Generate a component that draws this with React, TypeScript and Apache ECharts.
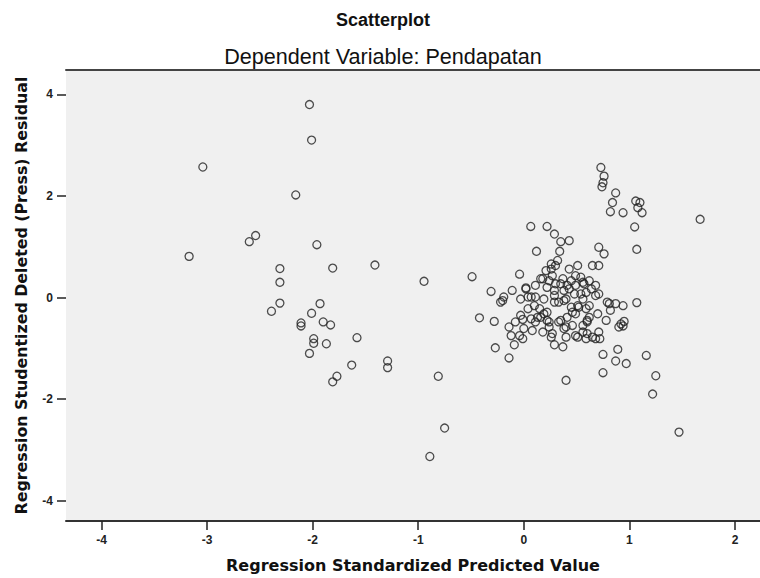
import React, { useEffect, useRef } from "react";
import * as echarts from "echarts";

const titleText = "Scatterplot";
const subtitleText = "Dependent Variable: Pendapatan";
const xAxisName = "Regression Standardized Predicted Value";
const yAxisName = "Regression Studentized Deleted (Press) Residual";

const xTicks = [-4, -3, -2, -1, 0, 1, 2];
const yTicks = [-4, -2, 0, 2, 4];

// Regression Standardized Predicted Value
const predicted = [
  -2.03, -2.01, -3.04, -2.16, -2.54, -2.6, -1.96, -3.17, -2.31, -1.81, -1.41, -2.31,
  -0.945, -0.49, -2.31, -2.39, -1.93, -2.01, -2.11, -2.11, -1.9, -1.83, -1.99, -1.99,
  -1.87, -2.03, -1.58, -1.63, -1.77, -1.81, -1.29, -1.29, -0.81, -0.42, -0.75, -0.89,
  -0.31, -0.11, 0.02, -0.04, -0.19, -0.2, -0.28, -0.14, -0.12, -0.09, -0.01, -0.01,
  -0.08, -0.27, -0.14, 0.4, -0.22, -0.03, -0.04, -0.03,
  0.066, 0.22, 0.29, 0.35, 0.43, 0.12, 0.34, 0.65, 0.51, 0.26, 0.3, 0.21, 0.27, 0.18,
  0.35, 0.41, 0.45, 0.49, 0.54, 0.57, 0.62, 0.68, 0.71, 0.54, 0.48, 0.38, 0.29, 0.22,
  0.11, 0.04, 0.32, 0.71, 0.16, 0.11, 0.02, 0.07, 0.1, 0.15, 0.19, 0.13, 0.22, 0.33,
  0.41, 0.46, 0.51, 0.56, 0.59, 0.64, 0.68, 0.43, 0.26, 0.24, 0.3, 0.37, 0.43, 0.49,
  0.56, 0.29, 0.33, 0.4, 0.11, 0.08, 0.18, 0.27, 0.4, 0.49, 0.6, 0.68, 0.56, 0.4, 0.24,
  0.62, 0.7, 0.59, 0.26, 0.29, 0.37, 0.51, 0.59, 0.65, 0.56, 0.46, 0.35, 0.49, 0.6,
  0.52, 0.62, 0.45, 0.38, 0.29, 0.19, 0.04, 0.22, 0.16, 0.07, 0.24, 0.0, 0.38, 0.71,
  0.73, 0.76, 0.75, 0.74, 0.87, 0.84, 0.82, 0.94, 1.06, 1.1, 1.08, 1.12, 1.05, 1.07,
  1.67, 0.71, 0.76, 1.07, 0.79, 0.87, 0.94, 0.82, 0.78, 0.95, 0.9, 0.94, 0.72, 0.75,
  0.89, 0.87, 0.97, 1.16, 0.75, 1.25, 1.22, 1.47, 0.6, 0.92, 0.81,
];

// Regression Studentized Deleted (Press) Residual
const residual = [
  3.8, 3.1, 2.57, 2.02, 1.22, 1.1, 1.04, 0.81, 0.57, 0.58, 0.64, 0.3,
  0.32, 0.41, -0.11, -0.27, -0.12, -0.31, -0.5, -0.56, -0.48, -0.54, -0.81, -0.9,
  -0.91, -1.1, -0.79, -1.33, -1.55, -1.66, -1.25, -1.38, -1.55, -0.4, -2.57, -3.13,
  0.12, 0.14, 0.19, 0.46, 0.01, -0.06, -0.47, -0.58, -0.75, -0.93, -0.81, -0.43,
  -0.48, -0.99, -1.19, -1.63, -0.09, -0.35, -0.75, -0.03,
  1.4, 1.4, 1.25, 1.1, 1.12, 0.91, 0.91, 0.63, 0.63, 0.66, 0.63, 0.53, 0.43, 0.37,
  0.27, 0.24, 0.33, 0.43, 0.4, 0.27, 0.33, 0.24, 0.07, 0.07, 0.07, 0.14, 0.14, 0.2,
  0.01, 0.01, 0.73, 0.63, 0.37, 0.24, 0.17, 0.01, -0.16, -0.22, -0.32, -0.39, -0.45, -0.48,
  -0.39, -0.29, -0.16, -0.03, 0.1, 0.17, 0.04, 0.56, 0.56, 0.33, 0.27, 0.37, 0.17, 0.24,
  0.3, 0.04, -0.09, -0.03, -0.48, -0.65, -0.68, -0.71, -0.78, -0.75, -0.71, -0.81, -0.55, -0.58, -0.58,
  -0.39, -0.32, -0.22, -0.78, -0.93, -0.97, -0.78, -0.81, -0.78, -0.68, -0.55, -0.45, -0.32, -0.45,
  -0.19, -0.16, -0.19, -0.06, -0.09, -0.03, -0.22, -0.29, -0.39, -0.42, -0.48, -0.61, -0.61, -0.68,
  2.56, 2.39, 2.26, 2.18, 2.06, 1.87, 1.69, 1.67, 1.9, 1.87, 1.77, 1.67, 1.39, 0.95,
  1.54, 0.99, 0.86, -0.1, -0.09, -0.12, -0.16, -0.25, -0.45, -0.47, -0.58, -0.56, -0.81, -1.12,
  -1.02, -1.25, -1.3, -1.14, -1.48, -1.54, -1.9, -2.65, -0.48, -0.52, -0.12,
];

const X_MIN = -4.336;
const X_MAX = 2.237;
const Y_MIN = -4.4;
const Y_MAX = 4.48;

export default function App() {
  const ref = useRef<HTMLDivElement>(null);

  useEffect(() => {
    document.body.style.margin = "0";
    const chart = echarts.init(ref.current!, null, { renderer: "svg" });
    const points = predicted.map((x, i) => [x, residual[i]]);
    const font = "Liberation Sans";
    const nameFont = "DejaVu Sans";
    chart.setOption({
      animation: false,
      backgroundColor: "#ffffff",
      textStyle: { fontFamily: font },
      grid: {
        left: 66,
        right: 0,
        top: 70,
        bottom: 55,
        show: true,
        backgroundColor: "#f0f0f0",
        borderWidth: 0,
      },
      graphic: [
        {
          type: "text",
          x: 383,
          y: 20,
          style: {
            text: titleText,
            font: `bold 18px "${font}"`,
            fill: "#111",
            textAlign: "center",
            textVerticalAlign: "middle",
          },
        },
        {
          type: "text",
          x: 383,
          y: 56,
          style: {
            text: subtitleText,
            font: `21.6px "${font}"`,
            fill: "#111",
            textAlign: "center",
            textVerticalAlign: "middle",
          },
        },
      ],
      xAxis: [
        {
          type: "value",
          min: X_MIN,
          max: X_MAX,
          splitLine: { show: false },
          axisLine: { show: true, onZero: false, lineStyle: { color: "#333", width: 2 } },
          axisTick: {
            show: true,
            customValues: xTicks,
            length: 9,
            lineStyle: { color: "#222", width: 1.5 },
          },
          axisLabel: {
            customValues: xTicks,
            margin: 13,
            fontSize: 12,
            fontWeight: "bold",
            color: "#222",
            fontFamily: font,
          },
          name: xAxisName,
          nameLocation: "middle",
          nameGap: 36,
          nameTextStyle: { fontSize: 16, fontWeight: "bold", color: "#111", fontFamily: nameFont },
        },
        {
          type: "value",
          position: "top",
          min: X_MIN,
          max: X_MAX,
          splitLine: { show: false },
          axisLine: { show: true, onZero: false, lineStyle: { color: "#444", width: 2 } },
          axisTick: { show: false },
          axisLabel: { show: false },
        },
      ],
      yAxis: {
        type: "value",
        min: Y_MIN,
        max: Y_MAX,
        splitLine: { show: false },
        axisLine: { show: false, onZero: false },
        axisTick: {
          show: true,
          customValues: yTicks,
          length: 9,
          lineStyle: { color: "#222", width: 1.5 },
        },
        axisLabel: {
          customValues: yTicks,
          margin: 13,
          fontSize: 12,
          fontWeight: "bold",
          color: "#222",
          fontFamily: font,
        },
        name: yAxisName,
        nameLocation: "middle",
        nameGap: 37,
        nameTextStyle: { fontSize: 15.8, fontWeight: "bold", color: "#111", fontFamily: nameFont },
      },
      series: [
        {
          type: "scatter",
          xAxisIndex: 0,
          yAxisIndex: 0,
          data: points,
          symbol: "circle",
          symbolSize: 8,
          itemStyle: { color: "rgba(0,0,0,0)", borderColor: "#222", borderWidth: 1.3 },
          emphasis: { disabled: true },
        },
      ],
    });
    return () => chart.dispose();
  }, []);

  return <div ref={ref} style={{ width: 760, height: 578 }} />;
}
